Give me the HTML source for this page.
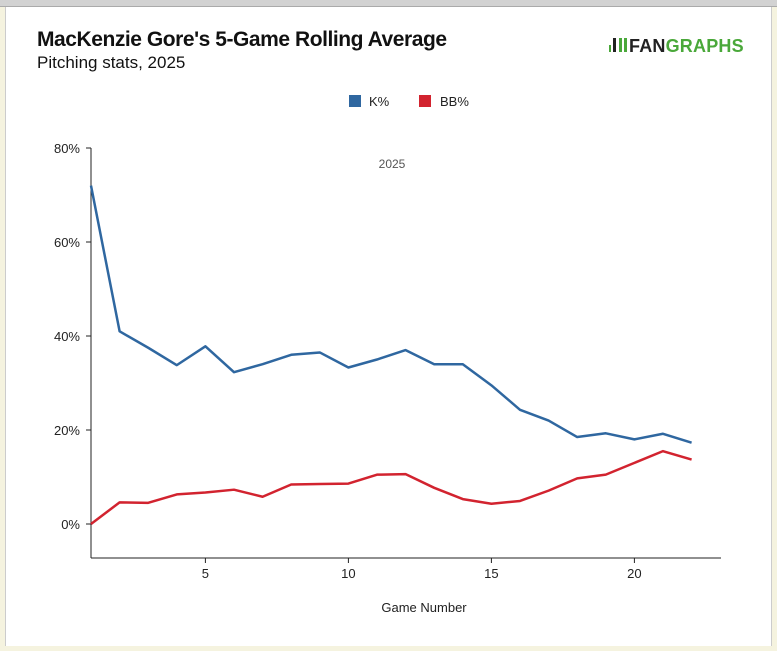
<!DOCTYPE html>
<html><head><meta charset="utf-8"><style>
body{margin:0;width:777px;height:651px;background:#f5f3df;overflow:hidden;font-family:"Liberation Sans",sans-serif}
#topbar{position:absolute;left:0;top:0;width:777px;height:6px;background:#d2d2d2;border-bottom:1px solid #aaa}
#card{position:absolute;left:5px;top:7px;width:765px;height:639px;background:#fff;border-left:1px solid #ccc;border-right:1px solid #ccc}
</style></head><body>
<div id="topbar"></div>
<div id="card"></div>
<svg id="chart" width="777" height="651" style="position:absolute;left:0;top:0">
<text x="37" y="46" font-size="21" font-weight="bold" fill="#111" textLength="410">MacKenzie Gore's 5-Game Rolling Average</text>
<text x="37" y="68" font-size="17" fill="#111">Pitching stats, 2025</text>
<g>
<rect x="609" y="45" width="2" height="7" fill="#4aa83a"/><rect x="613" y="38" width="3" height="14" fill="#222"/><rect x="619" y="38" width="3" height="14" fill="#4aa83a"/><rect x="624" y="38" width="3" height="14" fill="#4aa83a"/>
<text x="629" y="52" font-size="18" font-weight="bold" fill="#222" letter-spacing="-0.6" textLength="114">FAN<tspan fill="#4aa83a">GRAPHS</tspan></text>
</g>
<g>
<rect x="349" y="95" width="12" height="12" fill="#2f67a0"/>
<text x="369" y="106" font-size="13" fill="#222">K%</text>
<rect x="419" y="95" width="12" height="12" fill="#d2232f"/>
<text x="440" y="106" font-size="13" fill="#222">BB%</text>
</g>
<text x="392" y="168" font-size="12" fill="#555" text-anchor="middle">2025</text>
<g id="axes"></g>
<g id="series"></g>
<text x="424" y="612" font-size="13" fill="#222" text-anchor="middle">Game Number</text>
</svg>
<script>
const games=[1,2,3,4,5,6,7,8,9,10,11,12,13,14,15,16,17,18,19,20,21,22];
const kPct=[72,41,37.5,33.8,37.8,32.3,34,36,36.5,33.3,35,37,34,34,29.5,24.3,22,18.5,19.3,18,19.2,17.3];
const bbPct=[0,4.6,4.5,6.3,6.7,7.3,5.8,8.4,8.5,8.6,10.5,10.6,7.7,5.3,4.3,4.9,7.1,9.7,10.5,13,15.5,13.7];
const xTicks=[5,10,15,20];
const yTicks=[0,20,40,60,80];
const NS="http://www.w3.org/2000/svg";
function xs(g){return 91+(g-1)*28.6;}
function ys(v){return 524-v*4.7;}
const axes=document.getElementById('axes'),ser=document.getElementById('series');
function mk(tag,attrs,parent){const e=document.createElementNS(NS,tag);for(const k in attrs)e.setAttribute(k,attrs[k]);parent.appendChild(e);return e;}
const ya=mk('line',{x1:91,y1:148,x2:91,y2:558,stroke:'#222'},axes);


const xa=mk('line',{x1:91,y1:558,x2:721,y2:558,stroke:'#222'},axes);


yTicks.forEach(v=>{
 const t=mk('line',{x1:86,y1:ys(v),x2:91,y2:ys(v),stroke:'#222'},axes);
 
 
 const l=mk('text',{x:80,y:ys(v)+5,'font-size':13,fill:'#222','text-anchor':'end'},axes);
 l.textContent=v+'%';
 
 
});
xTicks.forEach(g=>{
 const t=mk('line',{x1:xs(g),y1:558,x2:xs(g),y2:563,stroke:'#222'},axes);
 
 
 const l=mk('text',{x:xs(g),y:578,'font-size':13,fill:'#222','text-anchor':'middle'},axes);
 l.textContent=g;
 
 
});
function line(vals,color,name){
 const p=mk('polyline',{points:vals.map((v,i)=>xs(games[i])+','+ys(v)).join(' '),fill:'none',stroke:color,'stroke-width':2.5,'stroke-linejoin':'round'},ser);
 
 
}
line(kPct,'#2f67a0','k-pct-line');
line(bbPct,'#d2232f','bb-pct-line');
</script>
</body></html>
